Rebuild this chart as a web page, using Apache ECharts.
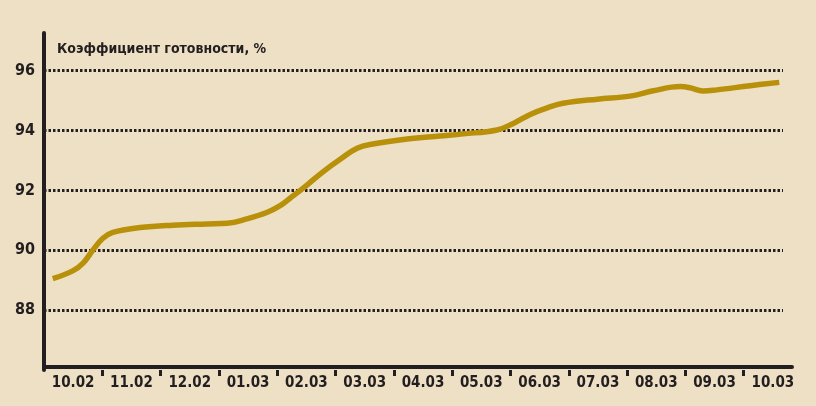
<!DOCTYPE html>
<html>
<head>
<meta charset="utf-8">
<script src="https://cdn.jsdelivr.net/npm/echarts@6/dist/echarts.min.js"></script>
<style>
  html, body { margin: 0; padding: 0; background: #eee0c4; }
  #chart { width: 816px; height: 406px; }
</style>
</head>
<body>
<div id="chart"></div>
<script>
// месяцы (подписи оси X)
var months = ['10.02', '11.02', '12.02', '01.03', '02.03', '03.03', '04.03',
  '05.03', '06.03', '07.03', '08.03', '09.03', '10.03']
// положение точки кривой в долях месяца от начала оси
var pos = [0.15, 0.5, 0.67, 0.84, 1.01, 1.18, 1.65, 2.21, 2.8, 3.14, 3.48, 3.83,
  4.05, 4.22, 4.51, 4.79, 5.08, 5.37, 5.64, 6.23, 6.79, 7.19, 7.77, 8.05, 8.34,
  8.63, 8.9, 9.49, 10.05, 10.45, 10.91, 11.08, 11.3, 11.54, 12.11, 12.61]
// коэффициент готовности, %
var ready = [89.05, 89.32, 89.57, 90.01, 90.40, 90.60, 90.76, 90.84, 90.88, 90.90,
  91.05, 91.27, 91.49, 91.74, 92.18, 92.63, 93.04, 93.41, 93.55, 93.72, 93.82,
  93.89, 94.02, 94.24, 94.54, 94.76, 94.91, 95.05, 95.15, 95.33, 95.47, 95.43,
  95.32, 95.36, 95.50, 95.61]
var yTicks = [88, 90, 92, 94, 96]

var ink = '#231f20'
var font = "'Liberation Sans Narrow', 'DejaVu Sans Condensed', sans-serif"
var yMin = 86
var yMax = 97.26

var line = []
for (var i = 0; i < pos.length; i++) {
  line.push([pos[i], ready[i]])
}
// засечки между месяцами и подписи посередине месяца
var tickAt = []
var labelAt = []
for (var j = 0; j < months.length; j++) {
  if (j > 0) tickAt.push(j)
  labelAt.push(j + 0.5)
}

var chart = echarts.init(document.getElementById('chart'))
var option = {
  backgroundColor: '#eee0c4',
  animation: false,
  title: {
    text: 'Коэффициент готовности, %',
    left: 52,
    top: 37,
    textStyle: { fontFamily: font, fontSize: 14, fontWeight: 'bold', color: ink }
  },
  grid: [
    // подписи месяцев и кривая
    { left: 44, right: 14, top: 33, bottom: 36 },
    // сетка и ось Y
    { left: 44, right: 33, top: 33, bottom: 36 },
    // линия оси X
    { left: 44, right: 24, top: 33, bottom: 39 }
  ],
  xAxis: [
    {
      type: 'value',
      gridIndex: 0,
      min: 0,
      max: months.length,
      axisLine: { show: false },
      splitLine: { show: false },
      axisTick: {
        show: true,
        customValues: tickAt,
        length: 6,
        lineStyle: { color: ink, width: 3 }
      },
      axisLabel: {
        customValues: labelAt,
        margin: 6,
        fontFamily: font,
        fontSize: 15,
        fontWeight: 'bold',
        color: ink,
        formatter: function (v) {
          return months[Math.floor(v)]
        }
      }
    },
    { type: 'value', gridIndex: 1, min: 0, max: 1, show: false },
    {
      type: 'value',
      gridIndex: 2,
      min: 0,
      max: 1,
      axisLine: { show: true, lineStyle: { color: ink, width: 4 } },
      axisTick: { show: false },
      axisLabel: { show: false },
      splitLine: { show: false }
    }
  ],
  yAxis: [
    { type: 'value', gridIndex: 0, min: yMin, max: yMax, show: false },
    {
      type: 'value',
      gridIndex: 1,
      min: yMin,
      max: yMax,
      interval: 2,
      axisLine: { show: true, lineStyle: { color: ink, width: 4 } },
      axisTick: { show: false },
      axisLabel: {
        margin: 9,
        fontFamily: font,
        fontSize: 16,
        fontWeight: 'bold',
        color: ink,
        formatter: function (v) {
          return yTicks.indexOf(v) >= 0 ? String(v) : ''
        }
      },
      splitLine: {
        show: true,
        lineStyle: {
          color: ['rgba(0,0,0,0)', ink, ink, ink, ink, ink, 'rgba(0,0,0,0)'],
          width: 3,
          type: [2.5, 2]
        }
      }
    },
    { type: 'value', gridIndex: 2, min: 0, max: 1, show: false }
  ],
  series: [
    {
      type: 'line',
      xAxisIndex: 0,
      yAxisIndex: 0,
      data: line,
      smooth: 0.4,
      showSymbol: false,
      lineStyle: { color: '#b8900a', width: 5.5 }
    }
  ]
}
chart.setOption(option)
</script>
</body>
</html>
